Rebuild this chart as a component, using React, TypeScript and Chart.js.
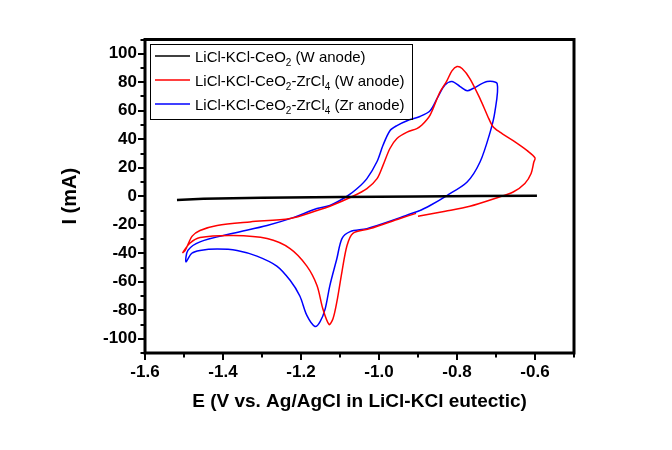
import React, { useEffect, useRef } from 'react';
import { Chart, registerables } from 'chart.js';

Chart.register(...registerables);

// ---- Data ----
const BLACK_X = [-1.518, -1.45, -1.3, -1.1, -0.9, -0.75, -0.595];
const BLACK_Y = [-2.6, -1.8, -1.1, -0.5, -0.1, 0.1, 0.3];

const RED_X = [
  -0.9, -0.83, -0.767, -0.697, -0.656, -0.626, -0.61, -0.603, -0.6, -0.62, -0.656, -0.69, -0.708,
  -0.721, -0.741, -0.767, -0.787, -0.8, -0.813, -0.826, -0.844, -0.869, -0.89, -0.903, -0.928,
  -0.954, -0.972, -0.99, -1.005, -1.031, -1.067, -1.126, -1.159, -1.228, -1.331, -1.415, -1.459,
  -1.479, -1.497, -1.503, -1.485, -1.459, -1.374, -1.287, -1.228, -1.185, -1.159, -1.144, -1.128,
  -1.118, -1.108, -1.095, -1.082, -1.067, -1.023, -0.946, -0.905,
];
const RED_Y = [
  -14, -10.5, -7, -1, 3, 9, 16, 24, 27, 32, 39, 45, 49,
  56, 68.5, 82.6, 89.6, 91, 88, 81, 73, 57, 50, 47.5, 45,
  40.5, 33.5, 21.5, 12.4, 5.4, 0, -7, -10, -15.6, -18, -20.5, -24,
  -28, -38, -39.5, -33, -29, -27.6, -29.7, -36.7, -49, -62.6, -79, -90,
  -86, -74, -53, -34.6, -26, -22.7, -15.6, -12,
];

const BLUE_X = [
  -0.895, -0.869, -0.826, -0.774, -0.741, -0.715, -0.703, -0.697, -0.723, -0.759, -0.774, -0.792,
  -0.813, -0.831, -0.851, -0.869, -0.895, -0.928, -0.954, -0.972, -0.99, -1.005, -1.031, -1.056,
  -1.082, -1.126, -1.159, -1.22, -1.287, -1.374, -1.459, -1.49, -1.495, -1.48, -1.459, -1.415,
  -1.364, -1.313, -1.262, -1.228, -1.203, -1.185, -1.164, -1.151, -1.138, -1.126, -1.108, -1.095,
  -1.074, -1.031, -0.946, -0.895,
];
const BLUE_Y = [
  -10, -6.5, 0.5, 10, 24, 45, 59, 79, 80.5, 75.6, 74, 77,
  80.5, 78, 68.6, 60, 56, 53, 49.6, 46, 35.6, 24.4, 12.4, 5.4,
  0, -6.5, -8.6, -15, -20.5, -26, -32, -38, -46, -40, -38, -37,
  -38, -42, -49, -59, -70, -83.6, -91.4, -88, -79, -62.7, -43.7, -29.7,
  -24.8, -22.7, -15, -10,
];

const X_TICKS = [-1.6, -1.4, -1.2, -1.0, -0.8, -0.6];
const Y_TICKS = [-100, -80, -60, -40, -20, 0, 20, 40, 60, 80, 100];
const X_MIN = -1.6;
const X_MAX = -0.5;
const Y_MIN = -110;
const Y_MAX = 110;

const SERIES_LABELS = [
  'LiCl-KCl-CeO_2 (W anode)',
  'LiCl-KCl-CeO_2-ZrCl_4 (W anode)',
  'LiCl-KCl-CeO_2-ZrCl_4 (Zr anode)',
];
const SERIES_COLORS = ['#000000', '#ff0000', '#0000ff'];
const X_TITLE = 'E (V vs. Ag/AgCl in LiCl-KCl eutectic)';
const Y_TITLE = 'I (mA)';

const FONT = "Arial, 'Liberation Sans', sans-serif";

function toPoints(xs: number[], ys: number[]) {
  return xs.map((x, i) => ({ x, y: ys[i] }));
}

const framePlugin = {
  id: 'frameAndTicks',
  afterDraw(chart: any) {
    const { ctx, chartArea: a, scales } = chart;
    const xs = scales.x;
    const ys = scales.y;
    ctx.save();
    ctx.strokeStyle = '#000';
    ctx.lineWidth = 3;
    ctx.strokeRect(a.left, a.top, a.right - a.left, a.bottom - a.top);
    ctx.lineWidth = 2;
    const nx = Math.round((X_MAX - X_MIN) / 0.1);
    for (let k = 0; k <= nx; k++) {
      const v = X_MIN + k * 0.1;
      const px = Math.round(xs.getPixelForValue(v));
      const len = k % 2 === 0 ? 7 : 4.5;
      ctx.beginPath();
      ctx.moveTo(px, a.bottom);
      ctx.lineTo(px, a.bottom + len);
      ctx.stroke();
    }
    const ny = Math.round((Y_MAX - Y_MIN) / 10);
    for (let k = 0; k <= ny; k++) {
      const v = Y_MIN + k * 10;
      const py = Math.round(ys.getPixelForValue(v));
      const len = v % 20 === 0 ? 7 : 4.5;
      ctx.beginPath();
      ctx.moveTo(a.left, py);
      ctx.lineTo(a.left - len, py);
      ctx.stroke();
    }
    ctx.restore();
  },
};

function drawRich(ctx: CanvasRenderingContext2D, text: string, x: number, y: number) {
  const parts = text.split(/(_\d)/);
  let cx = x;
  for (const p of parts) {
    if (!p) continue;
    if (p.startsWith('_')) {
      ctx.font = `10px ${FONT}`;
      ctx.fillText(p.slice(1), cx, y + 4);
      cx += ctx.measureText(p.slice(1)).width;
    } else {
      ctx.font = `15px ${FONT}`;
      ctx.fillText(p, cx, y);
      cx += ctx.measureText(p).width;
    }
  }
}

const legendPlugin = {
  id: 'customLegend',
  afterDraw(chart: any) {
    const { ctx, chartArea: a } = chart;
    const left = a.left + 5;
    const top = a.top + 4;
    const w = 262;
    const h = 75;
    ctx.save();
    ctx.strokeStyle = '#000';
    ctx.lineWidth = 1;
    ctx.strokeRect(Math.round(left) + 0.5, Math.round(top) + 0.5, w, h);
    ctx.fillStyle = '#000';
    ctx.textBaseline = 'alphabetic';
    ctx.textAlign = 'left';
    SERIES_LABELS.forEach((lab, i) => {
      const cy = top + 12.5 + i * 24;
      ctx.strokeStyle = SERIES_COLORS[i];
      ctx.lineWidth = 1.5;
      ctx.beginPath();
      ctx.moveTo(left + 5, cy);
      ctx.lineTo(left + 40, cy);
      ctx.stroke();
      ctx.fillStyle = '#000';
      drawRich(ctx, lab, left + 45, cy + 5.5);
    });
    ctx.restore();
  },
};

export default function App() {
  const ref = useRef<HTMLCanvasElement | null>(null);

  useEffect(() => {
    if (!ref.current) return;
    const chart = new Chart(ref.current, {
      type: 'scatter',
      data: {
        datasets: [
          {
            label: SERIES_LABELS[0],
            data: toPoints(BLACK_X, BLACK_Y),
            borderColor: SERIES_COLORS[0],
            borderWidth: 2.5,
            showLine: true,
            pointRadius: 0,
            tension: 0,
          },
          {
            label: SERIES_LABELS[1],
            data: toPoints(RED_X, RED_Y),
            borderColor: SERIES_COLORS[1],
            borderWidth: 1.5,
            showLine: true,
            pointRadius: 0,
            tension: 0.3,
          },
          {
            label: SERIES_LABELS[2],
            data: toPoints(BLUE_X, BLUE_Y),
            borderColor: SERIES_COLORS[2],
            borderWidth: 1.5,
            showLine: true,
            pointRadius: 0,
            tension: 0.3,
          },
        ],
      },
      options: {
        animation: false,
        responsive: false,
        maintainAspectRatio: false,
        layout: { padding: { left: 0, top: 39.5, right: 98, bottom: 0 } },
        plugins: {
          legend: { display: false },
          tooltip: { enabled: false },
          title: { display: false },
        },
        scales: {
          x: {
            type: 'linear',
            min: X_MIN,
            max: X_MAX,
            grid: { display: false, drawTicks: false },
            border: { display: false },
            afterBuildTicks: (scale: any) => {
              scale.ticks = X_TICKS.map((v) => ({ value: v }));
            },
            afterFit: (scale: any) => {
              scale.height = 97;
            },
            ticks: {
              padding: 9,
              maxRotation: 0,
              color: '#000',
              font: { family: FONT, size: 17, weight: 'bold' },
              callback: (v: any) => Number(v).toFixed(1),
            },
            title: {
              display: true,
              text: X_TITLE,
              color: '#000',
              font: { family: FONT, size: 19, weight: 'bold' },
              padding: { top: 0, bottom: 37 },
            },
          },
          y: {
            type: 'linear',
            min: Y_MIN,
            max: Y_MAX,
            grid: { display: false, drawTicks: false },
            border: { display: false },
            afterBuildTicks: (scale: any) => {
              scale.ticks = Y_TICKS.map((v) => ({ value: v }));
            },
            afterFit: (scale: any) => {
              scale.width = 145;
            },
            ticks: {
              padding: 8,
              color: '#000',
              font: { family: FONT, size: 17, weight: 'bold' },
              callback: (v: any) => String(v),
            },
            title: {
              display: true,
              text: Y_TITLE,
              color: '#000',
              font: { family: FONT, size: 20, weight: 'bold' },
              padding: { top: 58, bottom: 0 },
            },
          },
        },
      } as any,
      plugins: [framePlugin, legendPlugin],
    });
    return () => chart.destroy();
  }, []);

  return (
    <div style={{ position: 'absolute', left: 0, top: 0, width: 672, height: 450, background: '#fff' }}>
      <canvas ref={ref} width={672} height={450} />
    </div>
  );
}
